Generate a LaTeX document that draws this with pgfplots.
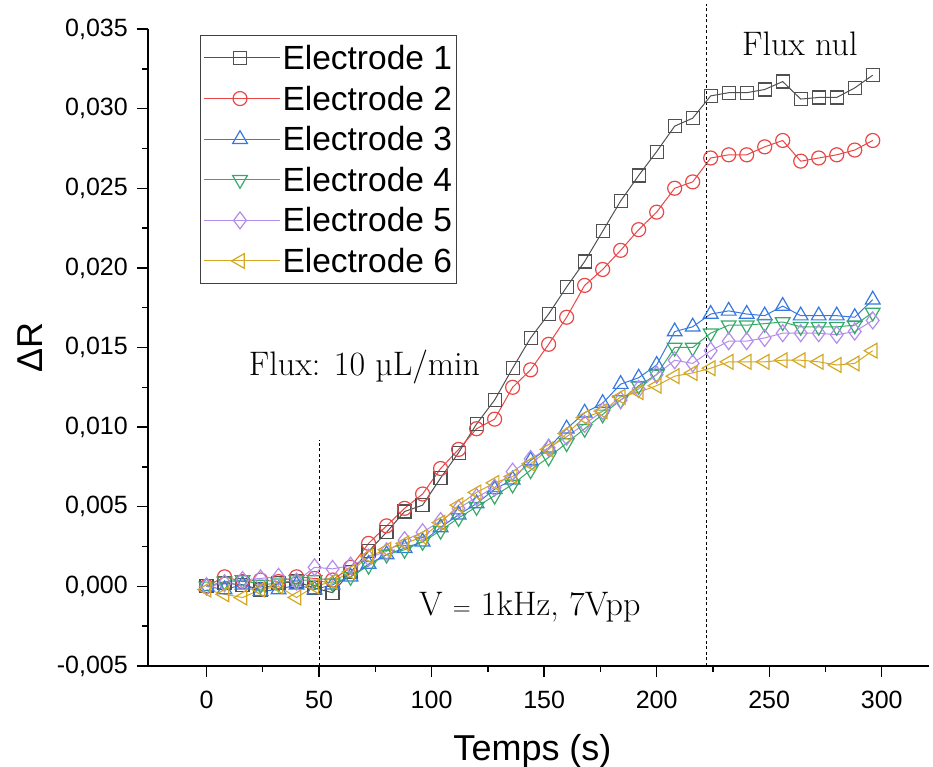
\documentclass[border=0pt]{standalone}
\usepackage{pgfplots}
\pgfplotsset{compat=1.18}
\usepackage{fontspec}
\newfontfamily\arial{Liberation Sans}
\definecolor{cA}{RGB}{80,80,80}
\definecolor{cB}{RGB}{235,70,70}
\definecolor{cC}{RGB}{55,120,225}
\definecolor{cD}{RGB}{55,170,105}
\definecolor{cE}{RGB}{180,140,235}
\definecolor{cF}{RGB}{212,168,35}
\begin{document}
\begin{tikzpicture}
\useasboundingbox (0,0) rectangle (933bp,767bp);
\begin{axis}[
  at={(148bp,101bp)}, anchor=south west,
  scale only axis, width=781bp, height=637bp,
  xmin=-26, xmax=321, ymin=-0.005, ymax=0.035,
  axis x line*=bottom, axis y line*=left,
  axis line style={line width=1.6bp, -},
  tick align=outside,
  major tick length=11bp, minor tick length=6bp,
  every tick/.style={black, line width=1.4bp},
  xtick={0,50,100,150,200,250,300}, minor x tick num=1,
  ytick={-0.005,0,0.005,0.01,0.015,0.02,0.025,0.03,0.035}, minor y tick num=1,
  scaled y ticks=false,
  y tick label style={/pgf/number format/fixed, /pgf/number format/fixed zerofill, /pgf/number format/precision=3, /pgf/number format/use comma},
  /pgf/number format/assume math mode=true,
  tick label style={font=\arial\fontsize{25bp}{30bp}\selectfont, inner sep=0pt},
  xticklabel style={anchor=north, yshift=-14bp},
  yticklabel style={anchor=east, xshift=-9bp},
  xlabel={Temps (s)},
  ylabel={ΔR},
  label style={font=\arial\fontsize{36bp}{42bp}\selectfont},
  x label style={at={(axis description cs:0.4923,-0.1476)}, anchor=base},
  y label style={at={(axis description cs:-0.151,0.5)}, anchor=center},
  clip=false,
  legend cell align=left,
  legend style={at={(axis description cs:0.0666,0.9906)}, anchor=north west,
    draw=black!75, line width=1bp, font=\arial\fontsize{33.5bp}{38bp}\selectfont,
    nodes={inner sep=2bp, text height=27bp, text depth=4bp},
    row sep=5.6bp, inner xsep=3bp, inner ysep=5bp},
  legend image code/.code={\draw[#1, mark repeat=2, mark phase=2] plot coordinates {(0bp,0bp) (36bp,0bp) (72bp,0bp)}; \path (0bp,0bp) -- (76bp,0bp);},
  every axis plot/.append style={line width=1bp},
]
\addplot[cA, mark=square, mark size=6.5bp, mark options={solid, line width=1.2bp}] table {
0 0.0000
8 0.0002
16 0.0001
24 -0.0002
32 0.0002
40 0.0003
48 -0.0001
56 -0.0004
64 0.0009
72 0.0022
80 0.0034
88 0.0047
96 0.0051
104 0.0068
112 0.0084
120 0.0102
128 0.0117
136 0.0137
144 0.0156
152 0.0171
160 0.0188
168 0.0204
176 0.0223
184 0.0242
192 0.0258
200 0.0273
208 0.0289
216 0.0294
224 0.0308
232 0.0310
240 0.0310
248 0.0312
256 0.0317
264 0.0306
272 0.0307
280 0.0307
288 0.0313
296 0.0321
};
\addlegendentry{Electrode 1}
\addplot[cB, mark=o, mark size=7bp, mark options={solid, line width=1.2bp}] table {
0 0.0000
8 0.0006
16 0.0003
24 0.0004
32 0.0003
40 0.0006
48 0.0005
56 0.0004
64 0.0012
72 0.0027
80 0.0038
88 0.0049
96 0.0058
104 0.0074
112 0.0086
120 0.0099
128 0.0105
136 0.0125
144 0.0136
152 0.0152
160 0.0169
168 0.0189
176 0.0199
184 0.0211
192 0.0224
200 0.0235
208 0.0250
216 0.0254
224 0.0269
232 0.0271
240 0.0271
248 0.0276
256 0.0280
264 0.0267
272 0.0269
280 0.0271
288 0.0274
296 0.0280
};
\addlegendentry{Electrode 2}
\addplot[cC, mark=triangle, mark size=8.5bp, mark options={solid, line width=1.2bp}] table {
0 0.0000
8 -0.0002
16 0.0001
24 -0.0003
32 -0.0002
40 0.0001
48 -0.0002
56 0.0001
64 0.0006
72 0.0014
80 0.0020
88 0.0024
96 0.0028
104 0.0037
112 0.0045
120 0.0052
128 0.0061
136 0.0067
144 0.0079
152 0.0087
160 0.0099
168 0.0109
176 0.0115
184 0.0127
192 0.0131
200 0.0139
208 0.0160
216 0.0163
224 0.0171
232 0.0173
240 0.0171
248 0.0170
256 0.0176
264 0.0170
272 0.0170
280 0.0170
288 0.0169
296 0.0180
};
\addlegendentry{Electrode 3}
\addplot[cD, mark=triangle, mark size=8.5bp, mark options={solid, line width=1.2bp, rotate=180}] table {
0 0.0000
8 0.0003
16 0.0004
24 0.0001
32 0.0002
40 0.0004
48 0.0004
56 0.0002
64 0.0006
72 0.0013
80 0.0020
88 0.0023
96 0.0028
104 0.0035
112 0.0043
120 0.0050
128 0.0057
136 0.0064
144 0.0073
152 0.0081
160 0.0090
168 0.0099
176 0.0108
184 0.0117
192 0.0126
200 0.0133
208 0.0150
216 0.0150
224 0.0159
232 0.0164
240 0.0164
248 0.0165
256 0.0166
264 0.0163
272 0.0163
280 0.0163
288 0.0164
296 0.0172
};
\addlegendentry{Electrode 4}
\addplot[cE, mark=diamond, mark size=8.5bp, mark options={solid, line width=1.2bp}] table {
0 0.0000
8 0.0002
16 0.0004
24 0.0005
32 0.0006
40 0.0003
48 0.0012
56 0.0011
64 0.0013
72 0.0018
80 0.0022
88 0.0029
96 0.0034
104 0.0041
112 0.0049
120 0.0056
128 0.0062
136 0.0072
144 0.0080
152 0.0087
160 0.0094
168 0.0102
176 0.0110
184 0.0117
192 0.0124
200 0.0133
208 0.0142
216 0.0140
224 0.0148
232 0.0154
240 0.0154
248 0.0156
256 0.0159
264 0.0159
272 0.0159
280 0.0158
288 0.0160
296 0.0167
};
\addlegendentry{Electrode 5}
\addplot[cF, mark=triangle, mark size=8.5bp, mark options={solid, line width=1.2bp, rotate=90}] table {
0 -0.0002
8 -0.0005
16 -0.0007
24 -0.0002
32 0.0000
40 -0.0007
48 0.0000
56 0.0003
64 0.0009
72 0.0019
80 0.0023
88 0.0027
96 0.0031
104 0.0040
112 0.0051
120 0.0059
128 0.0065
136 0.0069
144 0.0077
152 0.0086
160 0.0096
168 0.0106
176 0.0110
184 0.0119
192 0.0122
200 0.0126
208 0.0132
216 0.0134
224 0.0137
232 0.0141
240 0.0141
248 0.0141
256 0.0142
264 0.0142
272 0.0141
280 0.0139
288 0.0140
296 0.0148
};
\addlegendentry{Electrode 6}
\draw[black, line width=0.8bp, dash pattern=on 3bp off 2.5bp] (axis cs:50,-0.005) -- (axis cs:50,0.0092);
\draw[black, line width=0.8bp, dash pattern=on 3bp off 2.5bp] (axis cs:222,-0.005) -- (axis cs:222,0.0366);
\node[font=\fontsize{34bp}{38bp}\selectfont] at (axis cs:263.6,0.03405) {Flux nul};
\node[font=\fontsize{34bp}{38bp}\selectfont] at (axis cs:70.2,0.01379) {Flux: 10 µL/min};
\node[font=\fontsize{34bp}{38bp}\selectfont] at (axis cs:143.6,-0.00129) {V $=$ 1kHz, 7Vpp};
\end{axis}
\end{tikzpicture}
\end{document}
